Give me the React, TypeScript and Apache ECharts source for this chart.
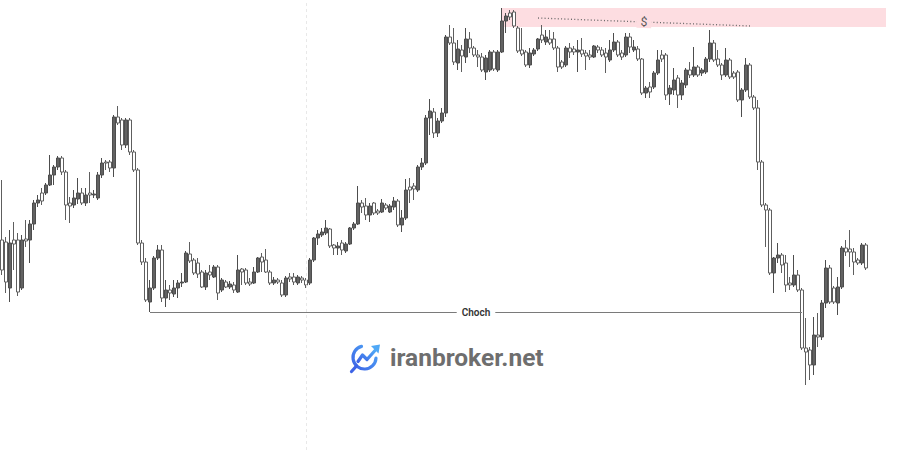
import React, { useEffect, useRef } from 'react';
import * as echarts from 'echarts';

// OHLC values (arbitrary price units)
const opens = [
  260, 258, 212, 260, 260, 212, 261, 260, 276, 297,
  307, 307, 315, 325, 333, 342, 328, 297, 295, 301,
  307, 297, 307, 305, 302, 325, 338, 338, 332, 383,
  380, 355, 380, 348, 330, 257, 238, 198, 212, 242,
  250, 202, 210, 206, 212, 217, 218, 246, 240, 237,
  228, 213, 228, 223, 233, 210, 218, 213, 215, 208, 231,
  230, 218, 217, 228, 243, 240, 228, 217, 220, 217,
  205, 223, 223, 217, 222, 220, 217, 240, 262, 265,
  267, 271, 255, 252, 257, 249, 256, 272, 276, 297,
  294, 285, 297, 289, 288, 295, 288, 293, 299, 275,
  282, 313, 314, 310, 333, 337, 382, 388, 367, 379,
  387, 463, 457, 437, 450, 443, 461, 452, 445, 443,
  428, 430, 448, 430, 448, 479, 487, 488, 472, 450,
  448, 435, 446, 451, 465, 458, 461, 461, 452, 438,
  435, 452, 451, 448, 450, 447, 445, 443, 453, 450,
  447, 440, 450, 458, 447, 445, 463, 450, 451, 441,
  407, 413, 413, 427, 445, 445, 406, 410, 422, 405,
  415, 430, 425, 433, 427, 428, 441, 457, 441,
  435, 425, 440, 427, 428, 400, 410, 435, 403, 392,
  338, 295, 290, 227, 242, 245, 237, 217, 215, 225,
  210, 152, 150, 135, 165, 163, 197, 232, 212, 197,
  213, 252, 251, 248, 240, 237, 255,
];
const closes = [
  230, 218, 257, 256, 208, 260, 259, 276, 297, 300,
  299, 315, 325, 333, 342, 328, 295, 294, 302, 307,
  297, 305, 305, 306, 325, 337, 337, 332, 383, 377,
  355, 380, 348, 330, 257, 238, 200, 212, 242, 250,
  202, 210, 207, 212, 217, 218, 247, 239, 227, 226,
  213, 227, 225, 233, 207, 220, 213, 216, 210, 230, 228,
  217, 216, 228, 242, 238, 228, 217, 220, 218, 205,
  222, 221, 218, 223, 220, 215, 240, 262, 266, 268,
  272, 254, 252, 254, 250, 256, 272, 276, 297, 293,
  285, 294, 287, 287, 297, 292, 294, 299, 275, 282,
  310, 310, 311, 333, 337, 382, 389, 367, 379, 387,
  463, 457, 438, 451, 444, 461, 452, 445, 443, 430,
  442, 448, 431, 448, 479, 484, 483, 474, 449, 446,
  435, 447, 450, 461, 460, 463, 457, 452, 433, 433,
  452, 448, 448, 450, 446, 444, 443, 454, 450, 445,
  443, 450, 458, 445, 443, 463, 453, 453, 441, 407,
  412, 408, 427, 440, 441, 405, 412, 420, 405, 417,
  430, 425, 433, 425, 430, 441, 457, 440, 435,
  425, 440, 423, 423, 400, 410, 435, 403, 392, 338,
  295, 290, 227, 242, 245, 235, 215, 215, 225, 210,
  152, 148, 135, 165, 163, 197, 232, 198, 198, 213,
  252, 248, 248, 238, 237, 255, 232,
];
const lows = [
  225, 207, 198, 230, 204, 210, 253, 237, 270, 293,
  295, 305, 314, 315, 330, 325, 280, 277, 292, 296,
  295, 294, 297, 302, 300, 322, 330, 328, 323, 375,
  350, 352, 345, 328, 255, 235, 198, 188, 210, 240,
  198, 193, 200, 203, 202, 213, 217, 237, 225, 222,
  212, 210, 220, 222, 200, 208, 212, 211, 207, 207, 215,
  215, 214, 216, 227, 228, 227, 215, 215, 216, 203,
  203, 218, 215, 215, 217, 212, 215, 238, 255, 263,
  265, 252, 245, 245, 245, 247, 255, 270, 275, 287,
  280, 278, 285, 285, 287, 290, 287, 290, 273, 268,
  280, 297, 300, 308, 330, 335, 365, 362, 363, 377,
  383, 455, 435, 430, 428, 437, 447, 443, 433, 428,
  420, 428, 429, 428, 447, 467, 480, 472, 447, 444,
  433, 432, 444, 449, 457, 455, 455, 450, 428, 431,
  433, 442, 445, 428, 443, 430, 440, 442, 447, 443,
  427, 438, 448, 443, 440, 443, 447, 448, 439, 405,
  402, 402, 411, 425, 438, 400, 395, 405, 392, 400,
  412, 422, 423, 423, 424, 426, 438, 438, 433,
  420, 423, 421, 421, 398, 383, 408, 401, 390, 330,
  293, 253, 225, 207, 237, 227, 208, 210, 213, 208,
  150, 115, 120, 125, 153, 160, 192, 196, 196, 185,
  211, 244, 233, 225, 235, 235, 230,
];
const highs = [
  320, 263, 270, 278, 267, 265, 280, 280, 300, 305,
  312, 317, 345, 335, 344, 344, 330, 303, 310, 322,
  312, 312, 328, 310, 328, 342, 340, 340, 385, 394,
  382, 382, 382, 350, 332, 260, 242, 220, 244, 255,
  255, 220, 215, 220, 220, 227, 249, 258, 242, 242,
  230, 230, 235, 235, 235, 222, 220, 219, 218, 245, 232,
  232, 222, 233, 243, 247, 251, 230, 223, 222, 220,
  224, 227, 227, 225, 224, 222, 242, 263, 270, 272,
  280, 272, 256, 258, 260, 258, 273, 278, 314, 300,
  302, 297, 298, 291, 301, 297, 296, 303, 301, 290,
  321, 322, 317, 335, 342, 385, 401, 392, 382, 392,
  465, 475, 472, 460, 455, 472, 468, 454, 450, 447,
  445, 450, 450, 450, 492, 487, 490, 490, 474, 472,
  450, 452, 452, 462, 475, 470, 470, 468, 454, 440,
  454, 457, 454, 460, 462, 450, 450, 455, 455, 453,
  452, 460, 467, 460, 450, 467, 467, 460, 454, 442,
  414, 418, 429, 450, 450, 447, 415, 432, 425, 420,
  432, 438, 453, 435, 432, 443, 470, 460, 450,
  437, 452, 442, 429, 430, 412, 442, 437, 405, 400,
  340, 297, 292, 243, 257, 247, 245, 223, 245, 230,
  212, 182, 153, 183, 187, 200, 240, 235, 214, 223,
  254, 260, 270, 252, 242, 257, 257,
];

const emptySlotsRight = 5;
const categories = [
  ...opens.map((_, i) => `bar ${i + 1}`),
  ...Array.from({ length: emptySlotsRight }, (_, i) => `space ${i + 1}`),
];

// annotations (category index, price)
const chochStart = 37;
const chochEnd = 200;
const chochPrice = 188;
const zoneStart = 125;
const zoneTop = 492;
const zoneBottom = 473;
const liquidityFrom = [134, 482];
const liquidityTo = [187, 474];
const sessionIndex = 76;

const yMin = 50;
const yMax = 500;

export default function App() {
  const ref = useRef<HTMLDivElement>(null);

  useEffect(() => {
    if (!ref.current) return;
    const chart = echarts.init(ref.current, undefined, { renderer: 'svg' });
    const candles = opens.map((o, i) => [o, closes[i], lows[i], highs[i]]);
    const blueDark = '#3d63e6';
    const blueLight = '#4fa8f6';
    const grad = () =>
      new echarts.graphic.LinearGradient(0, 1, 1, 0, [
        { offset: 0, color: blueDark },
        { offset: 1, color: blueLight },
      ]);

    chart.setOption({
      animation: false,
      backgroundColor: '#ffffff',
      grid: { left: -3, top: 0, width: 891, height: 450 },
      xAxis: {
        type: 'category',
        data: categories,
        show: false,
        boundaryGap: true,
      },
      yAxis: { type: 'value', min: yMin, max: yMax, show: false },
      series: [
        {
          type: 'candlestick',
          data: candles,
          barWidth: 2.6,
          itemStyle: {
            color: '#626262',
            color0: '#ffffff',
            borderColor: '#4d4d4d',
            borderColor0: '#5e5e5e',
            borderWidth: 1,
          },
          markArea: {
            silent: true,
            itemStyle: { color: '#fddde1' },
            data: [
              [
                { coord: [zoneStart, zoneTop] },
                { coord: [categories.length - 1, zoneBottom] },
              ],
            ],
          },
          markLine: {
            silent: true,
            symbol: ['none', 'none'],
            animation: false,
            data: [
              {
                xAxis: sessionIndex,
                lineStyle: { color: '#e8e8e8', width: 1, type: [3, 3] },
                label: { show: false },
              },
              [
                {
                  coord: [chochStart, chochPrice],
                  lineStyle: { color: '#7a7a7a', width: 1, type: 'solid' },
                  label: {
                    show: true,
                    position: 'middle',
                    formatter: 'Choch',
                    color: '#333333',
                    fontSize: 10,
                    fontWeight: 600,
                    fontFamily: 'Roboto',
                    backgroundColor: '#ffffff',
                    padding: [1, 5],
                    distance: 0,
                    verticalAlign: 'middle',
                  },
                },
                { coord: [chochEnd, chochPrice] },
              ],
              [
                {
                  coord: liquidityFrom,
                  lineStyle: { color: '#666666', width: 1.3, type: [1, 2.3] },
                  label: {
                    show: true,
                    position: 'middle',
                    formatter: '$',
                    color: '#555555',
                    fontSize: 12,
                    fontFamily: 'Roboto',
                    backgroundColor: '#fddde1',
                    padding: [0, 4],
                    distance: 0,
                    verticalAlign: 'middle',
                  },
                },
                { coord: liquidityTo },
              ],
            ],
          },
        },
      ],
      graphic: [
        {
          type: 'group',
          silent: true,
          children: [
            {
              type: 'arc',
              shape: { cx: 364.5, cy: 357.5, r: 11.5, startAngle: 0.05, endAngle: 4.45, clockwise: true },
              style: { stroke: grad(), lineWidth: 3.2, fill: 'none', lineCap: 'round' },
            },
            {
              type: 'line',
              shape: { x1: 356.5, y1: 366, x2: 351.5, y2: 371.5 },
              style: { stroke: blueDark, lineWidth: 3.2, lineCap: 'round' },
            },
            {
              type: 'polyline',
              shape: { points: [[358, 361.5], [362.5, 355], [367, 359.5], [375, 350.5]] },
              style: { stroke: grad(), lineWidth: 3.2, lineCap: 'round', lineJoin: 'round', fill: 'none' },
            },
            {
              type: 'polygon',
              shape: { points: [[380, 344.5], [371, 346], [378.5, 353.5]] },
              style: { fill: blueLight },
            },
            {
              type: 'text',
              x: 390,
              y: 357,
              style: {
                text: 'iranbroker.net',
                fill: '#6e6e6e',
                font: 'bold 24.5px Roboto',
                align: 'left',
                verticalAlign: 'middle',
              },
            },
          ],
        },
      ],
    });

    return () => chart.dispose();
  }, []);

  return (
    <div
      ref={ref}
      style={{ position: 'fixed', left: 0, top: 0, width: 900, height: 450, background: '#fff' }}
    />
  );
}
